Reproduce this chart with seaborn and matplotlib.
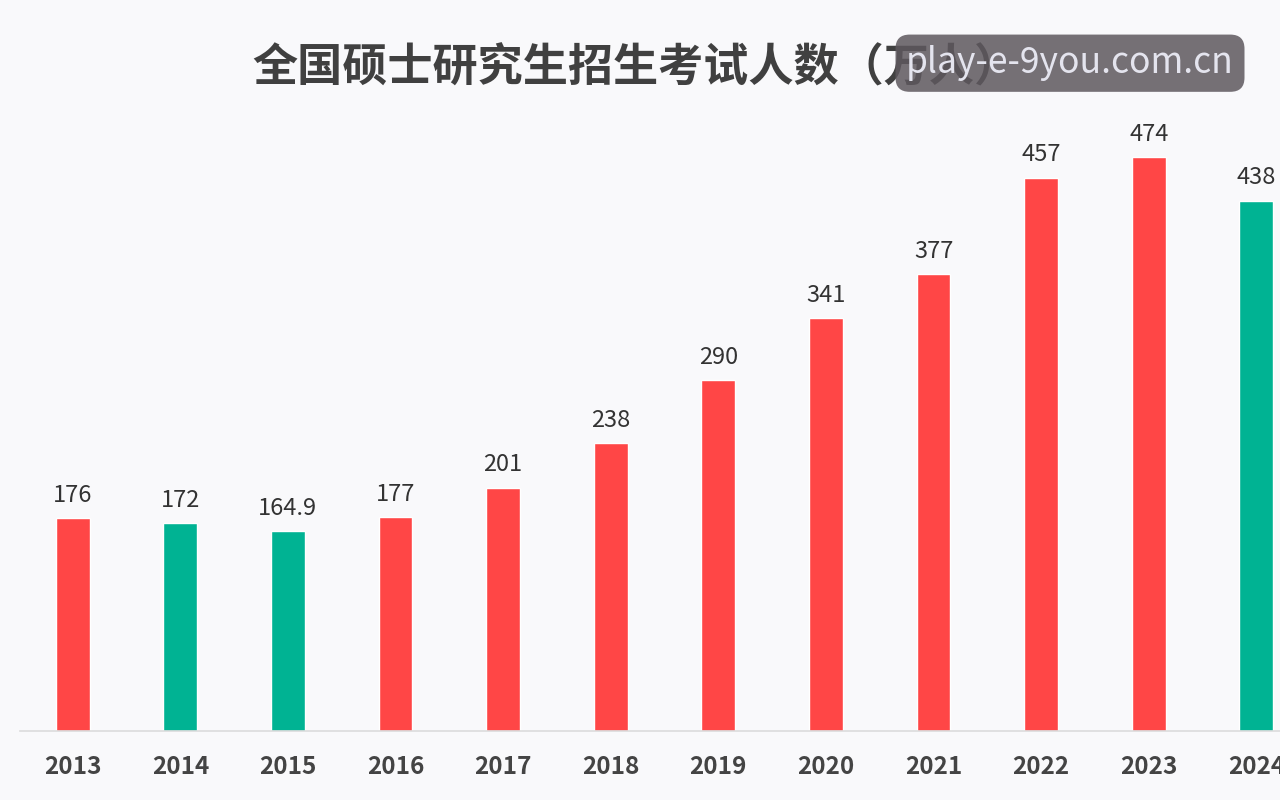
import pandas as pd
import seaborn as sns
from matplotlib import pyplot as plt

years = ["2013", "2014", "2015", "2016", "2017", "2018",
         "2019", "2020", "2021", "2022", "2023", "2024"]
applicants = [176, 172, 164.9, 177, 201, 238, 290, 341, 377, 457, 474, 438]
value_labels = ["176", "172", "164.9", "177", "201", "238",
                "290", "341", "377", "457", "474", "438"]

RED = "#FF4646"
GREEN = "#00B393"
BG = "#F9F9FB"

sns.set_theme(style="white")
plt.rcParams["font.family"] = ["Noto Sans CJK SC", "DejaVu Sans"]

df = pd.DataFrame({"year": years, "n": applicants})
prev = [None] + applicants[:-1]
df["dir"] = ["down" if p is not None and v < p else "up" for v, p in zip(applicants, prev)]

fig = plt.figure(figsize=(12.8, 8), dpi=100, facecolor=BG)
ax = fig.add_axes([20 / 1280, 69 / 800, 1260 / 1280, 631 / 800])
ax.set_facecolor(BG)

sns.barplot(
    data=df, x="year", y="n", hue="dir",
    palette={"up": RED, "down": GREEN},
    dodge=False, width=0.315, legend=False, saturation=1, ax=ax,
)

for cont in ax.containers:
    idx = [int(round(r.get_x() + r.get_width() / 2)) for r in cont]
    ax.bar_label(cont, labels=[value_labels[i] for i in idx], padding=8,
                 fontsize=17, color="#333333")

ax.set_xlim(-0.49, 11.22)
ax.set_ylim(0, 521)
ax.set_xlabel("")
ax.set_ylabel("")
ax.set_yticks([])
for s in ["top", "left", "right"]:
    ax.spines[s].set_visible(False)
ax.spines["bottom"].set_color("#DCDCDC")
ax.spines["bottom"].set_linewidth(1.2)
ax.tick_params(axis="x", length=0, pad=17, labelsize=17.5, labelcolor="#444444")
for t in ax.get_xticklabels():
    t.set_fontweight("bold")

fig.text(0.497, 0.915, "全国硕士研究生招生考试人数（万人）", ha="center", va="center",
         fontsize=32.5, fontweight="bold", color="#404040", zorder=1)

fig.text(1070 / 1280, 0.921, "play-e-9you.com.cn", ha="center", va="center",
         fontsize=25.5, color="#E4E4EE", zorder=2,
         bbox=dict(boxstyle="round,pad=0.3,rounding_size=0.4",
                   facecolor="#5E585E", edgecolor="none", alpha=0.85))

plt.savefig("out.png", dpi=100, facecolor=BG)
